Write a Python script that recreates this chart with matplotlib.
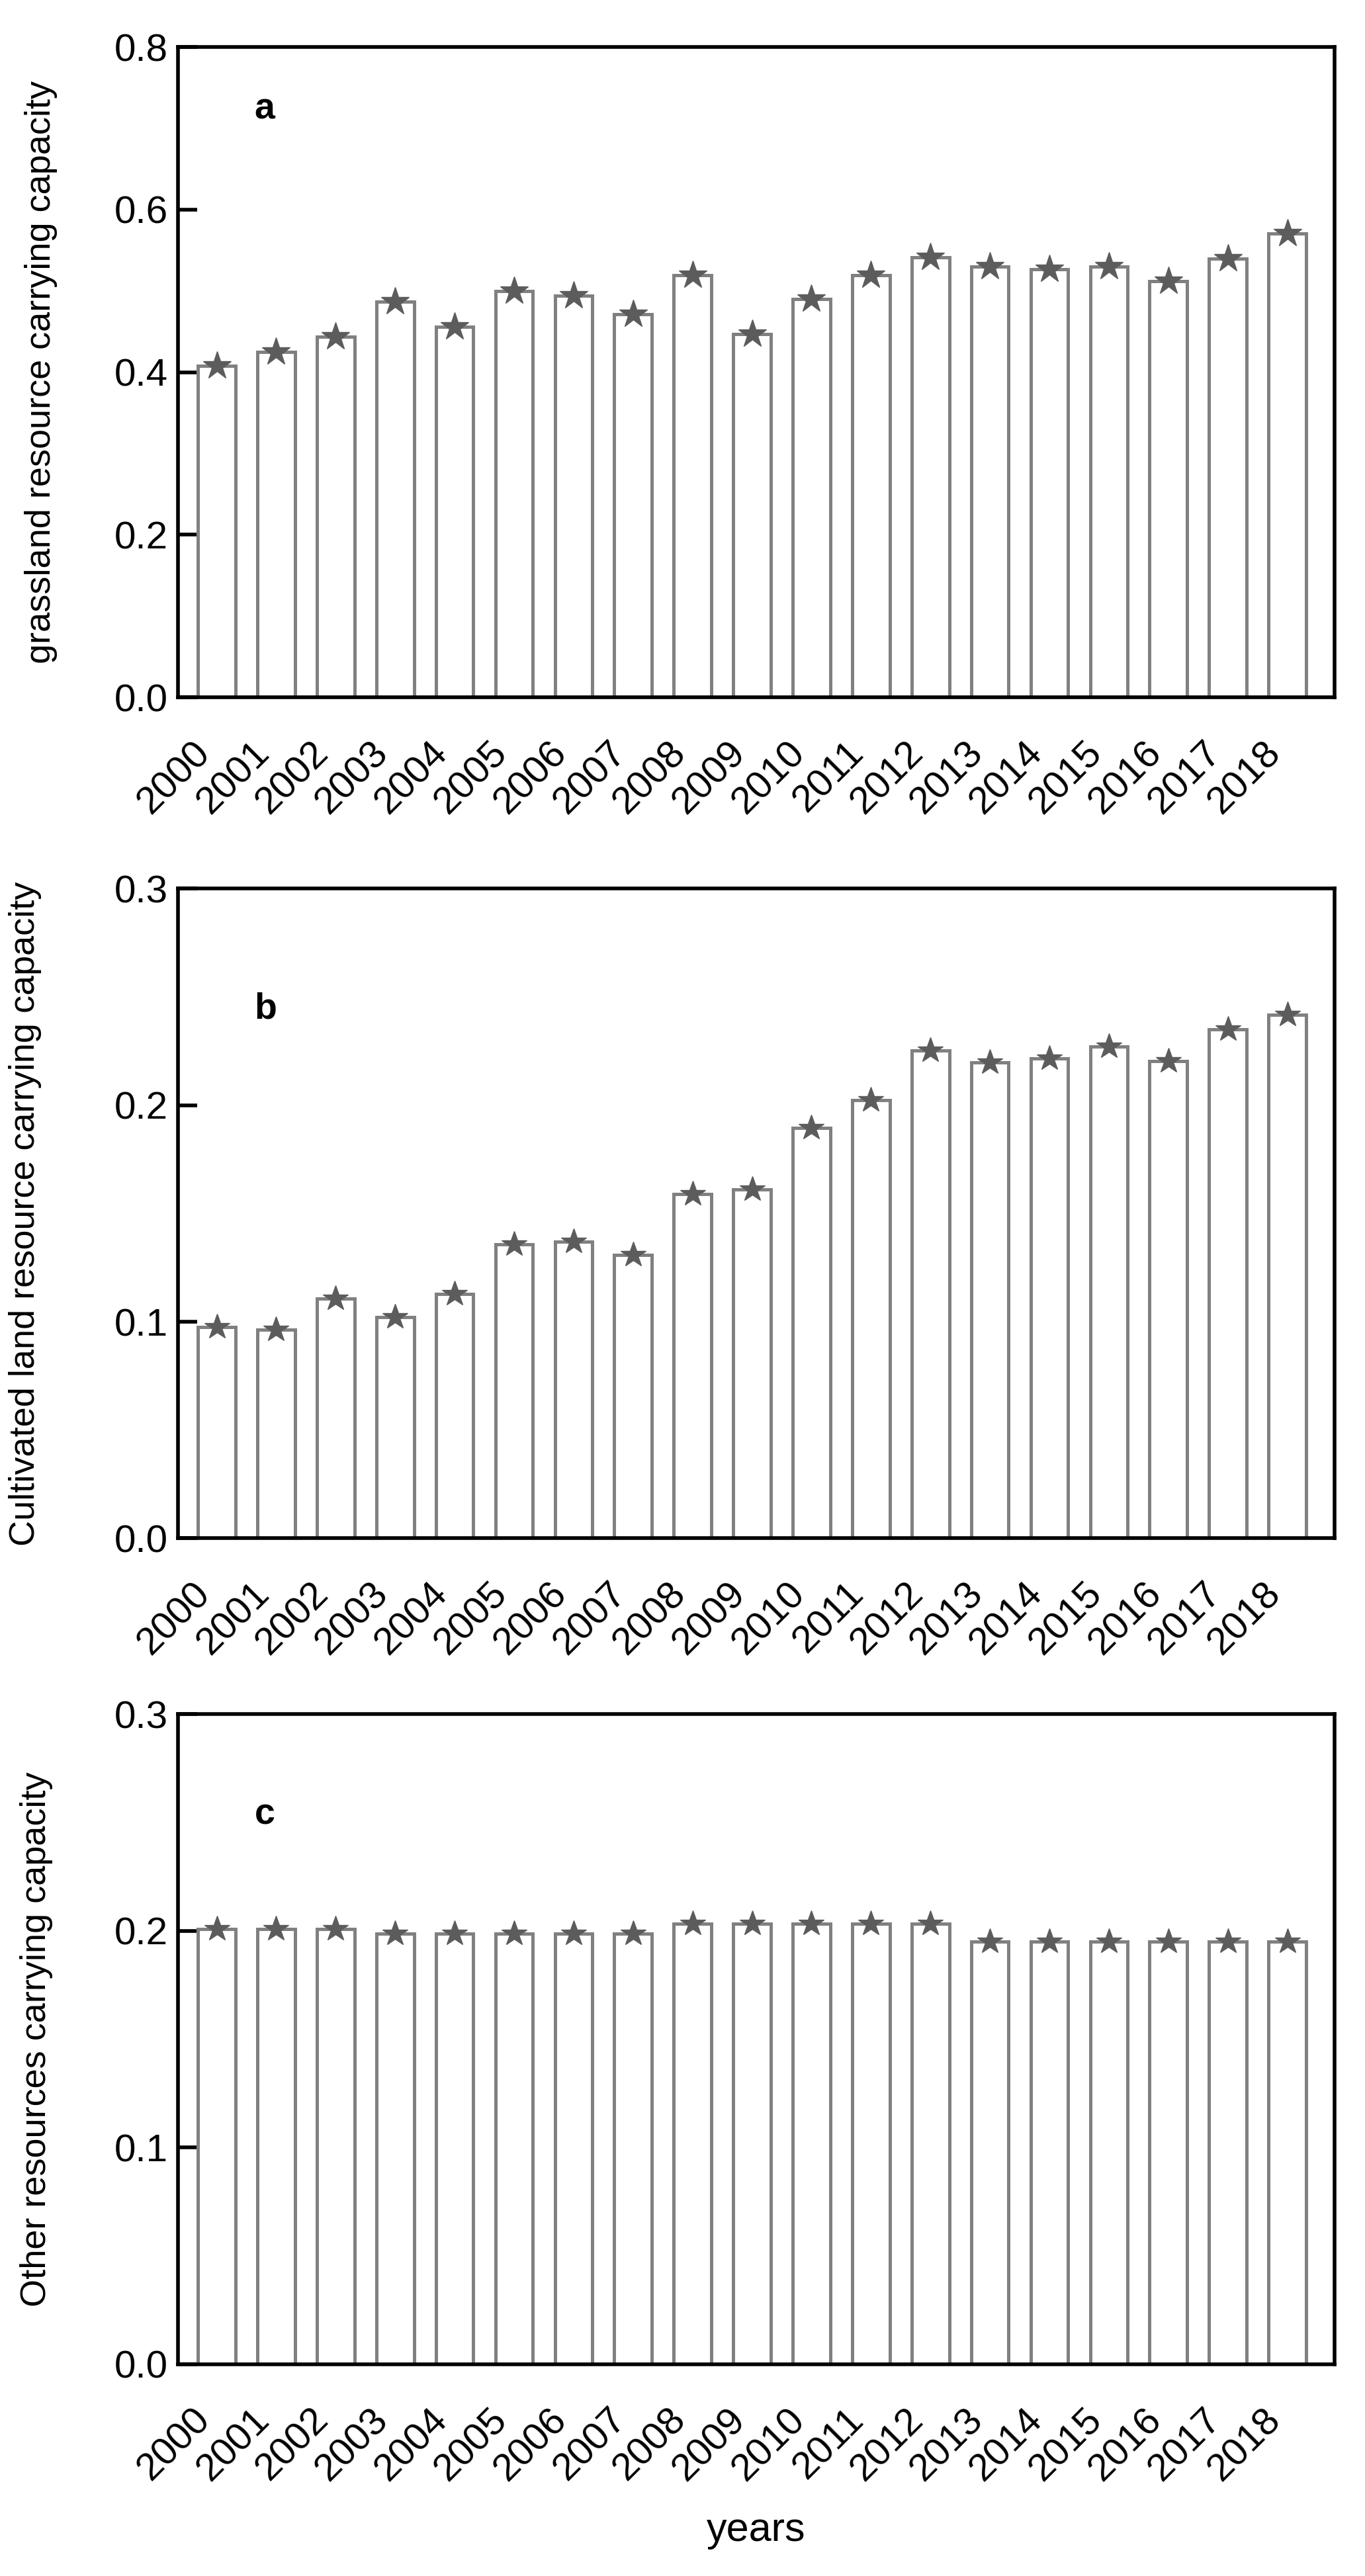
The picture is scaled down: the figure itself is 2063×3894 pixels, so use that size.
import numpy as np
import matplotlib
matplotlib.use("Agg")
import matplotlib.pyplot as plt
from matplotlib.transforms import ScaledTranslation

plt.rcParams['font.family'] = ['Liberation Sans', 'DejaVu Sans']

# data
years = [str(y) for y in range(2000, 2019)]
grassland = [0.408, 0.425, 0.444, 0.487, 0.456, 0.500, 0.494, 0.471, 0.519, 0.447,
             0.490, 0.519, 0.541, 0.530, 0.527, 0.530, 0.512, 0.540, 0.571]
cultivated = [0.0975, 0.0964, 0.1108, 0.1022, 0.1129, 0.1359, 0.1371, 0.1309, 0.159, 0.161,
              0.1896, 0.2023, 0.2254, 0.2198, 0.2216, 0.2271, 0.2205, 0.2350, 0.2419]
other = [0.2009, 0.2009, 0.2009, 0.1986, 0.1986, 0.1986, 0.1986, 0.1986, 0.2033, 0.2033,
         0.2033, 0.2033, 0.2033, 0.1949, 0.1949, 0.1949, 0.1949, 0.1949, 0.1949]

ylabels = ['grassland resource carrying capacity',
           'Cultivated land resource carrying capacity',
           'Other resources carrying capacity']
letters = ['a', 'b', 'c']
yticks = [[0.0, 0.2, 0.4, 0.6, 0.8], [0.0, 0.1, 0.2, 0.3], [0.0, 0.1, 0.2, 0.3]]
series = [grassland, cultivated, other]

fig = plt.figure(figsize=(20.63, 38.94), dpi=100)

# axes boxes [left, bottom, width, height] and per-panel tweaks
boxes = [[0.1304, 0.7293, 0.8473, 0.2524],
         [0.1304, 0.4028, 0.8473, 0.2522],
         [0.1304, 0.0822, 0.8473, 0.2524]]
letter_y = [0.89, 0.80, 0.831]
label_x = [-0.104, -0.118, -0.108]
star_size = [32, 29, 29]

x = np.arange(len(years))
for i in range(3):
    ax = fig.add_axes(boxes[i])
    vals = series[i]
    ax.bar(x, vals, width=0.63, color='white', edgecolor='#808080', linewidth=3.6, zorder=2)
    ax.plot(x, vals, linestyle='none', marker='*', markersize=star_size[i],
            color='#5c5c5c', zorder=3)
    ax.set_xlim(-0.651, 18.795)
    ax.set_ylim(yticks[i][0], yticks[i][-1])
    ax.set_yticks(yticks[i])
    ax.set_yticklabels(['%.1f' % t for t in yticks[i]])
    ax.set_xticks(x)
    ax.set_xticklabels(years, rotation=45, ha='right')
    # nudge rotated year labels a little to the right
    shift = ScaledTranslation(0.15, 0, fig.dpi_scale_trans)
    for lab in ax.get_xticklabels():
        lab.set_transform(lab.get_transform() + shift)
    for sp in ax.spines.values():
        sp.set_linewidth(4)
        sp.set_color('black')
    ax.tick_params(axis='y', direction='in', length=21, width=4, labelsize=42, pad=11)
    ax.tick_params(axis='x', length=0, labelsize=42, pad=41)
    ax.set_ylabel(ylabels[i], fontsize=39)
    ax.yaxis.set_label_coords(label_x[i], 0.5)
    ax.text(0.066, letter_y[i], letters[i], transform=ax.transAxes, fontsize=40,
            fontweight='bold', ha='left', va='baseline')
    if i == 2:
        ax.set_xlabel('years', fontsize=44)
        ax.xaxis.set_label_coords(0.5, -0.227)

fig.savefig('out.png', dpi=100)
